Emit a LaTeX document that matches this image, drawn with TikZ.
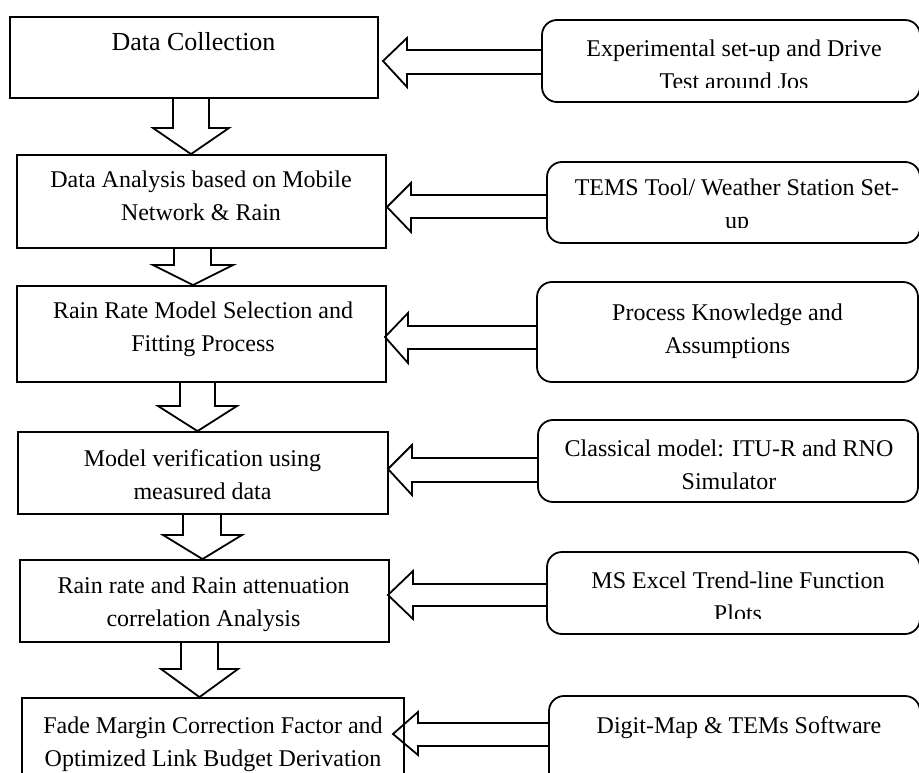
\documentclass[tikz,border=0pt]{standalone}
\usepackage{fontspec}
\setmainfont{Liberation Serif}
\begin{document}
\begin{tikzpicture}[x=1pt,y=-1pt,
  lbox/.style={draw, line width=1.8pt, rectangle, inner sep=0pt},
  rbox/.style={draw, line width=1.8pt, rectangle, rounded corners=15pt, inner sep=0pt},
  txt/.style={align=center, font=\fontsize{24}{33}\selectfont, inner sep=0pt, anchor=north},
  barrow/.style={draw, line width=1.8pt, line join=miter}]
\useasboundingbox (0,0) rectangle (919,773);
\clip (0,0) rectangle (919,773);

% left process boxes
\node[lbox, minimum width=368pt, minimum height=81pt] (L1) at (194,57.5) {};
\node[lbox, minimum width=369pt, minimum height=93pt] (L2) at (201.5,201.5) {};
\node[lbox, minimum width=369pt, minimum height=96pt] (L3) at (201.5,334) {};
\node[lbox, minimum width=370pt, minimum height=82pt] (L4) at (203,473) {};
\node[lbox, minimum width=369pt, minimum height=82pt] (L5) at (204.5,601) {};
\node[lbox, minimum width=382pt, minimum height=102pt] (L6) at (213,749) {};

% right input boxes
\node[rbox, minimum width=378pt, minimum height=82pt] (R1) at (731,61) {};
\node[rbox, minimum width=373pt, minimum height=81pt] (R2) at (733.5,202.5) {};
\node[rbox, minimum width=381pt, minimum height=100pt] (R3) at (727.5,332) {};
\node[rbox, minimum width=380pt, minimum height=82pt] (R4) at (728,461) {};
\node[rbox, minimum width=373pt, minimum height=82pt] (R5) at (733.5,593) {};
\node[rbox, minimum width=371pt, minimum height=104pt] (R6) at (734.5,748) {};

% texts (clipped as in the text frames)
\node[txt, font=\fontsize{26}{33}\selectfont] (L1t) at (193.5,27) {\strut Data Collection};
\begin{scope}
\clip (18,156) rectangle (385,236);
\node[txt] (L2t) at (201,164) {\strut Data Analysis based on Mobile\\Network \& Rain\\Attenuation/Data};
\end{scope}
\node[txt] (L3t) at (203,295) {\strut Rain Rate Model Selection and\\Fitting Process};
\node[txt] (L4t) at (202.5,443) {\strut Model verification using\\measured data};
\node[txt] (L5t) at (203.5,570) {\strut Rain rate and Rain attenuation\\correlation Analysis};
\node[txt] (L6t) at (213,710) {\strut Fade Margin Correction Factor and\\Optimized Link Budget Derivation};

\begin{scope}
\clip (543,21) rectangle (919,88);
\node[txt] (R1t) at (734,33.5) {\strut Experimental set-up and Drive\\Test around Jos};
\end{scope}
\begin{scope}
\clip (548,163) rectangle (919,227);
\node[txt] (R2t) at (737,172) {\strut TEMS Tool/ Weather Station Set-\\up};
\end{scope}
\node[txt] (R3t) at (727.5,297) {\strut Process Knowledge and\\Assumptions};
\node[txt] (R4t) at (729,433) {\strut Classical model: ITU-R and RNO\\Simulator};
\begin{scope}
\clip (548,553) rectangle (919,618);
\node[txt] (R5t) at (738,565) {\strut MS Excel Trend-line Function\\Plots};
\end{scope}
\node[txt] (R6t) at (739,710) {\strut Digit-Map \& TEMs Software};

% downward block arrows
\draw[barrow] (173,0 |- L1.south) -- (173,128) -- (153,128) -- (191,0 |- L2.north) -- (229,128) -- (209,128) -- (209,0 |- L1.south);
\draw[barrow] (174,0 |- L2.south) -- (174,265) -- (153,265) -- (193,0 |- L3.north) -- (233,265) -- (211,265) -- (211,0 |- L2.south);
\draw[barrow] (180,0 |- L3.south) -- (180,406) -- (158,406) -- (197.5,0 |- L4.north) -- (237,406) -- (215,406) -- (215,0 |- L3.south);
\draw[barrow] (183,0 |- L4.south) -- (183,535) -- (163,535) -- (202.5,0 |- L5.north) -- (242,535) -- (221,535) -- (221,0 |- L4.south);
\draw[barrow] (181,0 |- L5.south) -- (181,669) -- (161,669) -- (199.5,0 |- L6.north) -- (238,669) -- (218,669) -- (218,0 |- L5.south);

% leftward block arrows
\draw[barrow] (R1.west |- 0,50) -- (407,50) -- (407,38) -- (383,61) -- (407,87) -- (407,74) -- (R1.west |- 0,74);
\draw[barrow] (R2.west |- 0,195) -- (411,195) -- (411,183) -- (387,207) -- (411,232) -- (411,218) -- (R2.west |- 0,218);
\draw[barrow] (R3.west |- 0,326) -- (408,326) -- (408,313) -- (385,337) -- (408,363) -- (408,349) -- (R3.west |- 0,349);
\draw[barrow] (R4.west |- 0,458) -- (412,458) -- (412,445) -- (388,469) -- (412,495) -- (412,482) -- (R4.west |- 0,482);
\draw[barrow] (R5.west |- 0,584) -- (413,584) -- (413,571) -- (388,595) -- (413,619) -- (413,606) -- (R5.west |- 0,606);
\draw[barrow] (R6.west |- 0,723) -- (418,723) -- (418,712) -- (393,734) -- (418,755) -- (418,746) -- (R6.west |- 0,746);
\end{tikzpicture}
\end{document}
